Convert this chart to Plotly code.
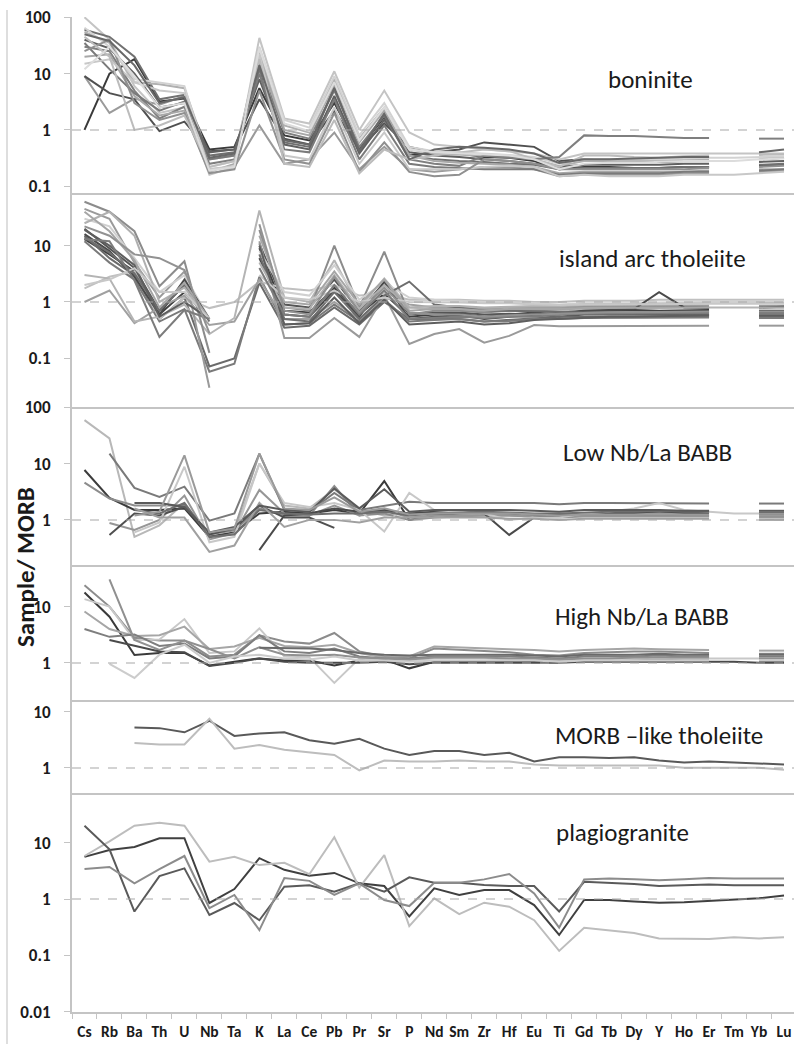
import plotly.graph_objects as go

# ---------------- data ----------------
elements = ["Cs", "Rb", "Ba", "Th", "U", "Nb", "Ta", "K", "La", "Ce", "Pb", "Pr", "Sr", "P",
            "Nd", "Sm", "Zr", "Hf", "Eu", "Ti", "Gd", "Tb", "Dy", "Y", "Ho", "Er", "Tm", "Yb", "Lu"]
N = None

panel_names = ["boninite", "island arc tholeiite", "Low Nb/La BABB", "High Nb/La BABB",
               "MORB \u2013like tholeiite", "plagiogranite"]

tick_vals = [0.01, 0.1, 1, 10, 100]
tick_text = ["0.01", "0.1", "1", "10", "100"]

boninite = [
    [1.0, 10, 18, 3.2, 3.6, 0.45, 0.5, 5.5, 0.8, 0.65, 3.0, 0.45, 1.7, 0.35, 0.4, 0.38, 0.33, 0.32, 0.28, 0.2, 0.22, 0.22, 0.21, 0.21, 0.22, 0.22, N, 0.23, 0.24],
    [9, 2, 3.6, 2.8, 4.0, 0.2, 0.22, 1.2, 0.25, 0.3, 0.9, 0.2, 0.5, 0.2, 0.18, 0.2, 0.22, 0.22, 0.2, 0.15, 0.16, 0.16, 0.16, 0.16, 0.17, 0.17, N, 0.18, 0.19],
    [9, 4.5, 3.5, 0.95, 1.4, 0.42, 0.45, 3.5, 0.7, 0.55, 2.2, 0.45, 1.3, 0.5, 0.4, 0.45, 0.6, 0.55, 0.5, 0.28, 0.3, 0.28, 0.28, 0.27, 0.28, 0.28, N, 0.3, 0.32],
    [100, 40, 6, 2.0, 2.5, 0.16, 0.22, 43, 1.6, 1.3, 11, 1.0, 5.0, 0.9, 0.55, 0.5, 0.45, 0.42, 0.38, 0.3, 0.38, 0.38, 0.38, 0.37, 0.38, 0.38, 0.38, 0.38, 0.38],
    [60, 45, 20, 3.5, 4.2, 0.35, 0.4, 12, 0.6, 0.5, 6, 0.4, 2.0, 0.35, 0.3, 0.28, 0.27, 0.25, 0.24, 0.2, 0.21, 0.21, 0.21, 0.21, 0.22, 0.22, N, 0.24, 0.25],
    [55, 35, 7, 6.5, 5.5, 0.3, 0.35, 25, 1.2, 0.9, 8, 0.7, 2.5, 0.45, 0.38, 0.36, 0.34, 0.33, 0.3, 0.23, 0.28, 0.28, 0.28, 0.29, 0.3, 0.3, N, 0.32, 0.33],
    [65, 30, 8, 7, 6, 0.22, 0.28, 30, 1.5, 1.1, 9, 0.8, 3.0, 0.5, 0.42, 0.4, 0.38, 0.36, 0.33, 0.25, 0.3, 0.3, 0.3, 0.3, 0.31, 0.32, 0.32, 0.33, 0.34],
    [40, 28, 10, 2.5, 3.0, 0.4, 0.45, 8, 0.55, 0.45, 4, 0.38, 1.5, 0.4, 0.35, 0.33, 0.3, 0.28, 0.25, 0.22, 0.24, 0.24, 0.24, 0.24, 0.25, 0.25, N, 0.27, 0.28],
    [30, 25, 5, 1.6, 2.6, 0.25, 0.3, 15, 0.9, 0.7, 5, 0.5, 1.8, 0.3, 0.25, 0.23, 0.35, 0.32, 0.3, 0.33, 0.8, 0.78, 0.78, 0.75, 0.72, 0.72, N, 0.7, 0.7],
    [20, 22, 4, 1.8, 2.2, 0.18, 0.25, 20, 1.0, 0.8, 6.5, 0.6, 2.2, 0.35, 0.28, 0.26, 0.25, 0.24, 0.22, 0.17, 0.18, 0.18, 0.18, 0.18, 0.18, 0.19, N, 0.2, 0.2],
    [35, 12, 4.5, 2.2, 3.2, 0.3, 0.35, 10, 0.45, 0.4, 3.5, 0.3, 1.2, 0.25, 0.22, 0.21, 0.2, 0.2, 0.2, 0.16, 0.17, 0.17, 0.17, 0.17, 0.18, 0.18, N, 0.19, 0.2],
    [15, 18, 7, 5, 4.5, 0.2, 0.23, 22, 0.35, 0.3, 2.5, 0.25, 0.9, 0.2, 0.2, 0.2, 0.22, 0.23, 0.22, 0.15, 0.16, 0.15, 0.15, 0.15, 0.16, 0.16, 0.16, 0.17, 0.18],
    [25, 40, 3, 1.5, 2.0, 0.17, 0.2, 5, 0.3, 0.25, 2.0, 0.18, 0.6, 0.18, 0.15, 0.16, 0.3, 0.28, 0.25, 0.2, 0.2, 0.2, 0.2, 0.2, 0.2, 0.21, N, 0.22, 0.23],
    [45, 20, 1.0, 1.2, 1.8, 0.22, 0.28, 18, 0.25, 0.22, 1.5, 0.17, 0.45, 0.3, 0.35, 0.4, 0.45, 0.42, 0.3, 0.22, 0.35, 0.35, 0.33, 0.32, 0.34, 0.35, N, 0.36, 0.37],
    [50, 38, 14, 3.0, 3.8, 0.32, 0.38, 14, 0.65, 0.55, 5.5, 0.42, 1.9, 0.3, 0.45, 0.5, 0.48, 0.45, 0.38, 0.26, 0.3, 0.3, 0.31, 0.32, 0.33, 0.33, N, 0.4, 0.45],
    [12, 30, 9, 2.5, 3.0, 0.19, 0.22, 28, 1.3, 0.95, 7, 0.65, 2.5, 0.45, 0.4, 0.38, 0.36, 0.35, 0.3, 0.2, 0.25, 0.26, 0.26, 0.27, 0.28, 0.28, 0.28, 0.3, 0.31],
]
boninite_colors = ["#3a3a3a", "#9a9a9a", "#505050", "#c4c4c4", "#707070", "#b0b0b0", "#d2d2d2", "#606060",
                   "#7f7f7f", "#a8a8a8", "#7a7a7a", "#c8c8c8", "#909090", "#bcbcbc", "#686868", "#dcdcdc"]

iat = [
    [13, 7, 3.5, 0.6, 1.5, 0.5, N, 9, 0.7, 0.65, 1.8, 0.6, 1.4, 0.55, 0.6, 0.62, 0.55, 0.6, 0.65, 0.6, 0.7, 0.7, 0.72, 0.7, 0.72, 0.72, N, 0.7, 0.7],
    [20, 9, 4.0, 0.7, 2.0, 0.5, N, 11, 0.9, 0.8, 2.5, 0.7, 2.2, 0.6, 0.65, 0.65, 0.6, 0.62, 0.6, 0.55, 0.6, 0.6, 0.6, 0.6, 0.6, 0.6, N, 0.58, 0.58],
    [15, 6, 3.0, 0.5, 1.2, 0.072, 0.1, 2.2, 0.35, 0.38, 0.8, 0.4, 1.0, 0.5, 0.5, 0.5, 0.45, 0.48, 0.52, 0.55, 0.55, 0.55, 0.55, 0.55, 0.55, 0.56, N, 0.55, 0.55],
    [12, 5, 2.5, 0.45, 0.75, 0.058, 0.08, 2.8, 0.4, 0.42, 0.9, 0.45, 1.1, 0.45, 0.48, 0.5, 0.45, 0.46, 0.5, 0.5, 0.52, 0.52, 0.52, 0.52, 0.53, 0.53, N, 0.52, 0.52],
    [1.75, 2.8, 3.5, 0.5, 1.2, 0.78, 1.0, 2.3, 1.75, 1.6, 2.0, 1.3, 1.4, 1.1, 1.1, 1.1, 1.05, 1.05, 1.0, 1.0, 1.05, 1.05, 1.05, 1.1, 1.1, 1.1, 1.1, 1.1, 1.1],
    [1.0, 1.6, 0.42, 0.8, 1.3, 0.39, 0.45, 2.5, 0.5, 0.5, 1.0, 0.5, 1.2, 0.9, 0.8, 0.8, 0.75, 0.8, 0.8, 0.8, 0.85, 0.85, 0.85, 0.85, 0.85, 0.85, N, 0.85, 0.85],
    [3.0, 2.6, 0.45, 0.55, 0.9, 0.27, 0.52, 42, 1.2, 1.0, 5.5, 0.8, 2.6, 0.8, 0.75, 0.7, 0.7, 0.7, 0.72, 0.7, 0.75, 0.75, 0.78, 0.8, 0.8, 0.8, 0.8, 0.8, 0.8],
    [60, 40, 18, 1.9, 5.3, 0.125, N, 19, 0.8, 0.7, 10, 0.8, 7.8, 0.6, 0.7, 0.7, 0.65, 0.7, 0.7, 0.75, 0.8, 0.8, 0.8, 0.8, 0.82, 0.82, N, 0.82, 0.83],
    [45, 30, 5, 1.2, 3.5, 0.03, N, 12, 0.23, 0.23, 0.52, 0.24, 1.3, 0.18, 0.27, 0.33, 0.19, 0.25, 0.39, 0.37, 0.37, 0.37, 0.37, 0.38, 0.38, 0.38, N, 0.38, 0.38],
    [30, 22, 6, 1.5, 3.0, 0.5, N, 8, 1.5, 1.3, 4.5, 1.1, 2.2, 1.2, 1.1, 1.05, 1.0, 1.0, 0.95, 0.9, 0.95, 0.95, 0.95, 0.98, 1.0, 1.0, 1.0, 1.0, 1.0],
    [16, 8, 2.8, 0.6, 2.5, 0.5, N, 6, 0.6, 0.55, 1.6, 0.55, 2.3, 0.5, 0.55, 0.58, 0.5, 0.55, 0.6, 0.65, 0.7, 0.72, 0.75, 1.5, 0.8, 0.78, N, 0.8, 0.82],
    [14, 7.5, 3.2, 0.7, 2.0, 0.45, N, 7, 0.5, 0.45, 1.5, 0.5, 1.3, 2.3, 0.9, 0.8, 0.7, 0.7, 0.68, 0.65, 0.65, 0.65, 0.65, 0.66, 0.66, 0.66, N, 0.65, 0.65],
    [25, 40, 15, 1.0, 1.8, 0.5, N, 5, 0.8, 0.75, 3.0, 0.75, 2.0, 0.8, 0.85, 0.85, 0.8, 0.82, 0.85, 0.85, 0.9, 0.9, 0.92, 0.92, 0.93, 0.93, N, 0.95, 0.95],
    [19, 10, 4.5, 0.55, 1.0, 0.5, N, 10, 0.4, 0.42, 1.2, 0.42, 1.1, 0.4, 0.42, 0.45, 0.4, 0.42, 0.48, 0.5, 0.52, 0.55, 0.55, 0.56, 0.57, 0.58, N, 0.58, 0.58],
    [40, 18, 5.5, 0.8, 2.2, 0.5, N, 15, 1.0, 0.9, 3.5, 0.9, 2.5, 0.7, 0.75, 0.75, 0.7, 0.75, 0.75, 0.75, 0.78, 0.78, 0.78, 0.8, 0.8, 0.8, N, 0.8, 0.8],
    [2.0, 2.5, 4.0, 1.5, 1.5, 0.5, N, 3.0, 1.2, 1.1, 1.6, 1.0, 1.2, 1.0, 1.0, 0.98, 0.95, 0.95, 0.9, 0.88, 0.9, 0.9, 0.9, 0.92, 0.92, 0.93, 0.93, 0.93, 0.93],
    [13, 12, 2.4, 0.24, 0.72, 0.5, N, 4, 0.6, 0.55, 2.0, 0.6, 1.6, 0.5, 0.52, 0.55, 0.52, 0.55, 0.55, 0.6, 0.62, 0.62, 0.62, 0.62, 0.63, 0.63, N, 0.62, 0.62],
    [22, 15, 7, 6, 3.7, 0.28, N, 24, 0.7, 0.6, 2.8, 0.65, 1.8, 0.65, 0.6, 0.6, 0.55, 0.58, 0.6, 0.62, 0.65, 0.66, 0.66, 0.67, 0.68, 0.68, N, 0.68, 0.68],
]
iat_colors = ["#404040", "#555555", "#6a6a6a", "#7a7a7a", "#c0c0c0", "#a0a0a0", "#b4b4b4", "#8c8c8c", "#9a9a9a",
              "#d0d0d0", "#4a4a4a", "#6e6e6e", "#b0b0b0", "#5e5e5e", "#a6a6a6", "#c8c8c8", "#7c7c7c", "#929292"]

low_babb = [
    [59, 28, 0.5, 0.8, 2.0, 0.5, 0.6, 10, 1.8, 1.6, 3.5, 1.5, 1.2, 1.3, 1.3, 1.3, 1.25, 1.3, 1.2, 1.15, 1.2, 1.2, 1.2, 1.25, 1.2, 1.2, N, 1.2, 1.2],
    [7.7, 2.45, 1.5, 1.5, 1.6, 0.5, 0.6, 1.3, 1.4, 1.3, 1.5, 1.3, 4.9, 1.0, 1.2, 1.3, 1.35, 1.3, 1.2, 1.25, 1.3, 1.3, 1.3, 1.35, 1.3, 1.3, N, 1.25, 1.25],
    [4.6, 2.4, 1.8, 1.8, 1.8, 0.55, 0.65, 1.6, 1.2, 1.2, 4.0, 1.2, 1.3, 1.0, 1.1, 1.15, 1.2, 1.2, 1.15, 1.15, 1.2, 1.2, 1.2, 1.2, 1.2, 1.2, N, 1.15, 1.15],
    [N, 15, 3.7, 2.55, 3.9, 0.97, 1.3, 15, 1.5, 1.4, 3.0, 1.5, 1.8, 2.1, 2.0, 2.0, 2.0, 2.05, 2.0, 1.9, 2.0, 2.0, 2.0, 2.0, 1.95, 1.95, N, 1.95, 1.95],
    [N, 0.88, 0.66, 1.0, 2.7, 0.45, 0.58, 3.4, 1.3, 1.2, 1.8, 1.2, 1.5, 1.1, 1.2, 1.2, 1.2, 1.2, 1.15, 1.1, 1.15, 1.15, 1.15, 1.15, 1.15, 1.15, N, 1.1, 1.1],
    [N, 0.54, 1.3, 1.2, 1.7, 0.55, 0.7, 1.8, 1.1, 1.1, 0.72, N, N, N, N, N, N, N, N, N, N, N, N, N, N, N, N, N, N],
    [N, N, N, N, N, N, N, 0.29, 1.2, 1.3, 1.6, 1.4, 1.5, 1.3, 1.4, 1.45, 1.3, 0.54, 1.1, 1.2, 1.3, 1.35, 1.35, 1.4, 1.35, 1.35, N, 1.3, 1.3],
    [N, N, 0.6, 0.9, 8.8, 0.4, 0.5, 10, 2.0, 1.7, 2.0, 1.5, 0.62, 3.0, 1.5, 1.4, 1.3, 1.0, 1.1, 1.1, 1.3, 1.4, 1.6, 2.0, 1.5, 1.4, 1.3, 1.3, 1.3],
    [N, N, 1.5, 1.3, 2.0, 0.5, 0.55, 1.5, 1.3, 1.25, 1.3, 1.3, 1.4, 1.2, 1.3, 1.35, 1.4, 1.35, 1.3, 1.3, 1.35, 1.4, 1.4, 1.45, 1.4, 1.4, N, 1.35, 1.35],
    [N, N, 1.6, 1.1, 1.1, 0.27, 0.35, 2.0, 0.75, 1.0, 1.0, 0.9, 1.1, 1.1, 1.1, 1.1, 1.1, 1.05, 1.05, 1.0, 1.05, 1.05, 1.05, 1.05, 1.05, 1.05, N, 1.0, 1.0],
    [N, N, 2.0, 2.0, 1.7, 0.6, 0.75, 1.8, 1.5, 1.4, 3.6, 1.6, 3.5, 1.4, 1.5, 1.5, 1.5, 1.5, 1.45, 1.4, 1.5, 1.5, 1.5, 1.5, 1.45, 1.45, N, 1.45, 1.45],
    [N, N, 1.2, 1.4, 14, 0.6, 0.7, 15, 1.6, 1.5, 2.5, 1.4, 1.6, 1.25, 1.3, 1.3, 1.3, 1.3, 1.25, 1.2, 1.25, 1.25, 1.25, 1.3, 1.25, 1.25, N, 1.2, 1.2],
]
low_babb_colors = ["#b8b8b8", "#3c3c3c", "#8c8c8c", "#7a7a7a", "#969696", "#505050", "#4a4a4a", "#c8c8c8",
                   "#6e6e6e", "#a0a0a0", "#5a5a5a", "#9a9a9a"]

high_babb = [
    [24, 10, 2.8, 2.5, 2.5, 1.3, 1.4, 3.1, 2.4, 2.2, 3.4, 1.6, 1.3, 1.2, 1.8, 1.7, 1.6, 1.55, 1.4, 1.35, 1.5, 1.55, 1.6, 1.6, 1.55, 1.5, N, 1.45, 1.45],
    [17.8, 6.6, 1.38, 1.5, 1.5, 0.9, 1.05, 1.2, 1.1, 1.1, 0.9, 1.1, 1.15, 0.8, 1.05, 1.05, 1.05, 1.05, 1.05, 1.05, 1.1, 1.1, 1.1, 1.1, 1.1, 1.1, N, 1.05, 1.05],
    [13.6, 10, 2.55, 2.6, 6.0, 1.5, 1.6, 4.1, 1.3, 1.25, 0.44, 1.2, 1.1, 1.1, 1.2, 1.2, 1.2, 1.15, 1.15, 1.1, 1.15, 1.15, 1.2, 1.25, 1.2, 1.2, 1.2, 1.2, 1.2],
    [8.2, 4.0, 3.0, 3.1, 4.4, 1.76, 1.95, 2.8, 2.0, 1.9, 2.1, 1.5, 1.25, 1.3, 1.95, 1.9, 1.8, 1.75, 1.7, 1.6, 1.7, 1.75, 1.8, 1.75, 1.75, 1.7, N, 1.65, 1.65],
    [4.0, 2.9, 3.2, 2.0, 2.2, 1.2, 1.3, 3.1, 1.6, 1.5, 1.8, 1.3, 1.2, 1.2, 1.3, 1.3, 1.3, 1.3, 1.25, 1.2, 1.3, 1.3, 1.3, 1.35, 1.3, 1.3, N, 1.3, 1.3],
    [N, 30.5, 2.55, 1.7, 2.5, 1.76, 1.2, 1.9, 1.4, 1.35, 1.4, 1.25, 1.2, 1.15, 1.25, 1.25, 1.25, 1.2, 1.2, 1.15, 1.2, 1.2, 1.25, 1.25, 1.25, 1.25, N, 1.2, 1.2],
    [N, 2.55, 2.0, 1.6, 1.55, 0.88, 1.0, 1.2, 1.05, 1.0, 1.0, 1.0, 1.05, 0.95, 1.0, 1.0, 1.0, 1.0, 1.0, 1.0, 1.05, 1.05, 1.05, 1.05, 1.05, 1.05, 1.05, 1.0, 1.0],
    [N, 0.96, 0.54, 1.4, 2.1, 1.0, 1.3, 1.4, 1.2, 1.15, 1.3, 1.1, 1.1, 1.05, 1.1, 1.1, 1.1, 1.1, 1.1, 1.05, 1.1, 1.1, 1.1, 1.1, 1.1, 1.1, N, 1.1, 1.1],
    [N, N, N, N, N, N, N, 1.85, 1.85, 1.8, 1.7, 1.5, 1.4, 1.35, 1.4, 1.4, 1.4, 1.4, 1.35, 1.3, 1.4, 1.4, 1.4, 1.45, 1.4, 1.4, N, 1.4, 1.4],
]
high_babb_colors = ["#8c8c8c", "#3a3a3a", "#c8c8c8", "#a6a6a6", "#7e7e7e", "#909090", "#4a4a4a", "#cccccc", "#6a6a6a"]

morb_like = [
    [N, N, 5.25, 5.1, 4.3, 6.9, 3.7, 4.1, 4.3, 3.1, 2.7, 3.3, 2.2, 1.7, 2.0, 2.0, 1.7, 1.85, 1.3, 1.55, 1.55, 1.5, 1.55, 1.35, 1.25, 1.3, 1.25, 1.2, 1.15],
    [N, N, 2.77, 2.6, 2.6, 7.5, 2.2, 2.55, 2.1, 1.9, 1.7, 0.9, 1.35, 1.3, 1.3, 1.35, 1.3, 1.3, 1.15, 1.1, 1.1, 1.1, 1.1, 1.1, 1.0, 1.0, 1.02, 1.0, 0.93],
]
morb_like_colors = ["#595959", "#bdbdbd"]

plagiogranite = [
    [5.6, 7.4, 8.4, 12, 12, 0.85, 1.5, 5.3, 3.3, 2.6, 2.9, 1.9, 1.7, 0.49, 1.55, 1.18, 1.44, 1.44, 0.78, 0.23, 0.96, 0.96, 0.9, 0.86, 0.88, 0.92, 0.96, 1.03, 1.15],
    [5.8, 10.5, 20, 22.5, 20, 4.6, 5.6, 4.0, 4.4, 2.75, 12.5, 1.6, 6.0, 0.33, 1.03, 0.54, 0.86, 0.73, 0.42, 0.12, 0.31, 0.28, 0.25, 0.2, 0.2, 0.195, 0.21, 0.2, 0.21],
    [20, 7.6, 0.6, 2.55, 3.5, 0.52, 0.85, 0.42, 1.65, 1.75, 1.35, 1.9, 1.35, 2.42, 1.94, 1.94, 1.77, 1.7, 1.7, 0.6, 2.02, 1.95, 1.85, 1.7, 1.75, 1.8, 1.75, 1.75, 1.75],
    [3.4, 3.7, 1.9, 3.4, 5.8, 0.69, 1.18, 0.28, 2.35, 2.1, 1.18, 1.9, 0.96, 0.75, 1.94, 1.94, 2.23, 2.77, 1.26, 0.31, 2.23, 2.3, 2.25, 2.15, 2.25, 2.35, 2.3, 2.3, 2.3],
]
plagiogranite_colors = ["#404040", "#bdbdbd", "#5a5a5a", "#8c8c8c"]

panels = [
    (boninite, boninite_colors),
    (iat, iat_colors),
    (low_babb, low_babb_colors),
    (high_babb, high_babb_colors),
    (morb_like, morb_like_colors),
    (plagiogranite, plagiogranite_colors),
]

# ---------------- layout geometry (pixels) ----------------
W, H = 794, 1044
ML, MB = 72, 32
PW, PH = W - ML, H - MB
# (top px, bottom px, px of value 1) for each panel
panel_px = [(17, 193, 130), (193, 407, 302), (407, 565, 520),
            (565, 700, 663), (700, 793, 768), (793, 1012, 899)]
DEC = 56.5
label_px = [(650, 79), (652, 259), (647, 452), (642, 616), (659, 735), (622, 832)]


def py(p):
    return (PH - p) / PH


def px(p):
    return (p - ML) / PW


FONT = "Carlito, Calibri, Lato, 'Open Sans', sans-serif"
AXC = "#c4c4c4"

fig = go.Figure()
layout = dict(
    width=W, height=H,
    margin=dict(l=ML, r=0, t=0, b=MB, pad=0, autoexpand=False),
    paper_bgcolor="white", plot_bgcolor="white",
    showlegend=False,
    font=dict(family=FONT, color="#1a1a1a"),
)
shapes = []
annotations = []

for i, ((series, colors), (top, bot, one)) in enumerate(zip(panels, panel_px)):
    k = "" if i == 0 else str(i + 1)
    xa, ya = "x" + k, "y" + k
    for vals, col in zip(series, colors):
        fig.add_trace(go.Scatter(
            x=elements, y=vals, mode="lines", xaxis=xa, yaxis=ya,
            line=dict(color=col, width=2), connectgaps=False, hoverinfo="skip"))
    r_top = (one - top) / DEC + 0.005
    r_bot = -(bot - one) / DEC - 0.005
    last = i == len(panels) - 1
    layout["xaxis" + k] = dict(
        type="category", categoryorder="array", categoryarray=elements,
        range=[-0.5, 28.4], anchor=ya, domain=[0, 1], automargin=False,
        showline=True, linecolor=AXC, linewidth=2, showgrid=False, zeroline=False,
        ticks="outside" if last else "", tickson="boundaries", ticklen=5, tickcolor=AXC,
        showticklabels=last, ticklabelstandoff=4, tickangle=0,
        tickfont=dict(size=15.5, weight="bold", color="#1a1a1a", family=FONT),
    )
    layout["yaxis" + k] = dict(
        type="log", range=[r_bot, r_top], domain=[py(bot), py(top)], anchor=xa, automargin=False,
        showline=True, linecolor=AXC, linewidth=2, showgrid=False, zeroline=False,
        tickmode="array", tickvals=tick_vals, ticktext=tick_text,
        ticks="outside", ticklen=6, tickcolor=AXC, ticklabelstandoff=10,
        tickfont=dict(size=17, weight="bold", color="#1a1a1a", family=FONT),
    )
    # dashed reference line at 1
    shapes.append(dict(type="line", xref="paper", yref="paper", x0=0, x1=1,
                       y0=py(one), y1=py(one), line=dict(color="#a8a8a8", width=1.2, dash="dash")))
    lx, ly = label_px[i]
    annotations.append(dict(xref="paper", yref="paper", x=px(lx), y=py(ly), text=panel_names[i],
                            showarrow=False, xanchor="center", yanchor="middle",
                            font=dict(size=25, family=FONT, color="#1a1a1a")))

# outer left frame line
shapes.append(dict(type="line", xref="paper", yref="paper", x0=px(7), x1=px(7),
                   y0=py(1044), y1=py(10), line=dict(color="#c8c8c8", width=1.2)))

annotations.append(dict(xref="paper", yref="paper", x=px(25), y=py(567), text="Sample/ MORB",
                        showarrow=False, textangle=-90, xanchor="center", yanchor="middle",
                        font=dict(size=25, weight="bold", family=FONT, color="#1a1a1a")))

layout["shapes"] = shapes
layout["annotations"] = annotations
fig.update_layout(**layout)
fig.write_html("out.html")
